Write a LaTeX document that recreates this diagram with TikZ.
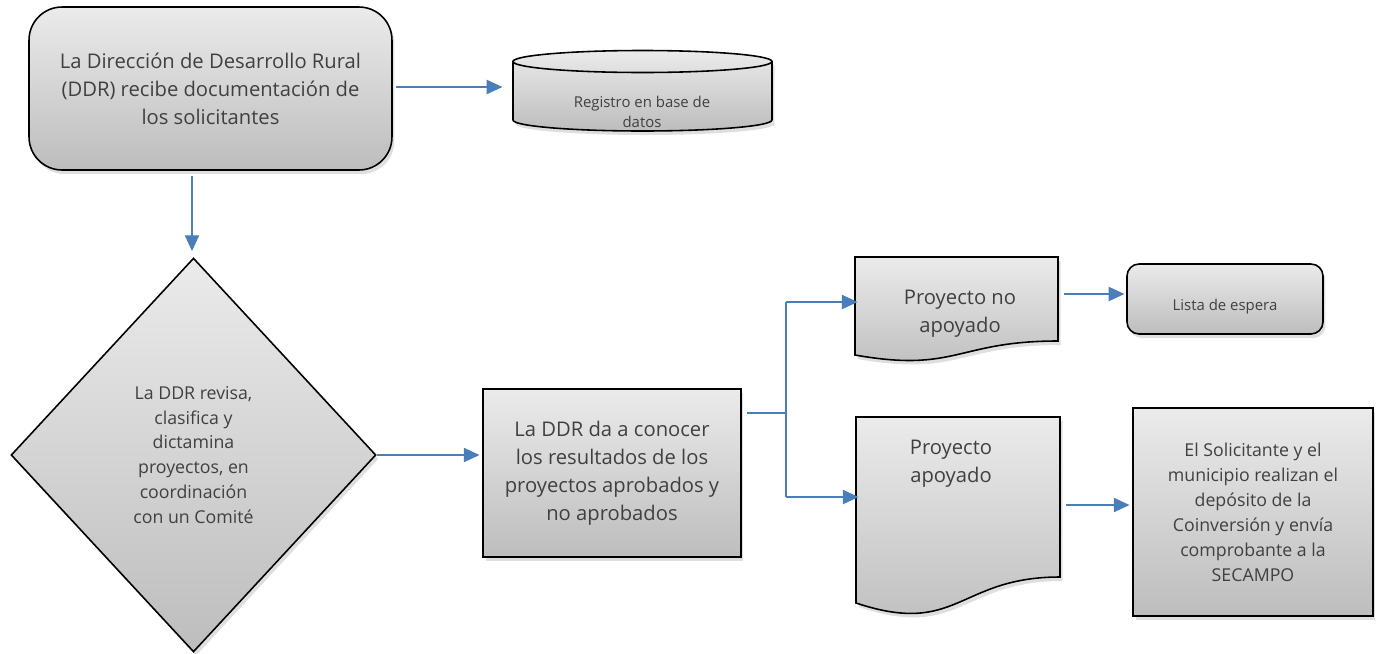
\documentclass[tikz,border=0pt]{standalone}
\usepackage{fontspec}
\setmainfont{Open Sans}
\usetikzlibrary{arrows.meta,shapes.geometric,shadows}
\definecolor{arrowblue}{HTML}{4A7EBB}
\definecolor{txt}{HTML}{404040}
\definecolor{gtop}{HTML}{EBEBEB}
\definecolor{gbot}{HTML}{BDBDBD}
\begin{document}
\begin{tikzpicture}[x=0.02cm,y=-0.02cm,
  box/.style={draw=black, line width=0.9pt, top color=gtop, bottom color=gbot,
    drop shadow={shadow xshift=0.5mm, shadow yshift=-0.8mm, opacity=0.25},
    text=txt, align=center, inner sep=0pt},
  anchorbox/.style={inner sep=0pt, outer sep=0pt},
  lbl/.style={text=txt, align=center, inner sep=0pt},
  conn/.style={draw=arrowblue, line width=1.2pt, -{Triangle[length=9pt,width=8pt]}},
  link/.style={draw=arrowblue, line width=1.2pt},
  fbig/.style={font=\fontsize{11.5}{16}\selectfont},
  fmid/.style={font=\fontsize{10.1}{14.2}\selectfont},
  fsmall/.style={font=\fontsize{8.5}{11.3}\selectfont}
]
\useasboundingbox (0,0) rectangle (1382,653);

% A: rounded rectangle
\node[box, fbig, rectangle, rounded corners=0.66cm, minimum width=7.26cm, minimum height=3.26cm]
  (A) at (210.5,88.5) {La Dirección de Desarrollo Rural\\(DDR) recibe documentación de\\los solicitantes};

% B: cylinder
\path[box] (513,61.5) -- (513,120)
  arc[start angle=180, end angle=360, x radius=2.59cm, y radius=0.22cm]
  -- (772,61.5)
  arc[start angle=0, end angle=180, x radius=2.59cm, y radius=0.22cm] -- cycle;
\draw[line width=0.9pt] (513,61.5) arc[start angle=180, end angle=360, x radius=2.59cm, y radius=0.22cm];
\node[anchorbox, minimum width=5.18cm, minimum height=1.62cm] (B) at (642.5,91) {};
\node[lbl, fsmall] (Bt) at (642,112) {Registro en base de\\datos};

% C: diamond
\node[box, fmid, diamond, minimum width=7.3cm, minimum height=7.88cm]
  (C) at (193.5,455) {La DDR revisa,\\clasifica y\\dictamina\\proyectos, en\\coordinación\\con un Comité};

% D: rectangle
\node[box, fbig, rectangle, minimum width=5.16cm, minimum height=3.36cm]
  (D) at (612,473) {La DDR da a conocer\\los resultados de los\\proyectos aprobados y\\no aprobados};

% E: document (Proyecto no apoyado)
\path[box] (855,257) -- (1058,257) -- (1058,341)
  .. controls (956.5,341) and (956.5,373) .. (855,355) -- cycle;
\node[anchorbox, minimum width=4.06cm, minimum height=1.96cm] (E) at (956.5,306) {};
\node[lbl, fbig] (Et) at (960,314) {Proyecto no\\apoyado};

% F: rounded rectangle
\node[box, rectangle, rounded corners=0.24cm, minimum width=3.92cm, minimum height=1.4cm]
  (F) at (1225,299) {};
\node[lbl, fsmall] (Ft) at (1225,307) {Lista de espera};

% G: document (Proyecto apoyado)
\path[box] (856,417) -- (1060,417) -- (1060,577)
  .. controls (958,577) and (958,637) .. (856,603) -- cycle;
\node[anchorbox, minimum width=4.08cm, minimum height=3.72cm] (G) at (958,510) {};
\node[lbl, fbig] (Gt) at (951,463.5) {Proyecto\\apoyado};

% H: rectangle
\node[box, fmid, rectangle, minimum width=4.8cm, minimum height=4.16cm]
  (H) at (1253,512) {El Solicitante y el\\municipio realizan el\\depósito de la\\Coinversión y envía\\comprobante a la\\SECAMPO};

% connector helpers
\coordinate (xa) at (192,0);
\coordinate (j) at (786,413);
\coordinate (jE) at (786,302);
\coordinate (jG) at (786,497);
\coordinate (ef) at (1100,294);
\coordinate (gh) at (1100,505);
\coordinate (ab) at (450,87);

% connectors
\draw[conn, shorten <=2pt, shorten >=6pt] (A.east |- ab) -- (B.west |- ab);
\draw[conn, shorten <=3pt, shorten >=3.5pt] (A.south -| xa) -- (C.north -| xa);
\draw[conn, shorten >=1.5pt] (C.east) -- (C.east -| D.west);
\draw[link, shorten <=3pt] (D.east |- j) -- (j);
\draw[link] (jE) -- (jG);
\draw[conn, shorten >=-1.5pt] (jE) -- (E.west |- jE);
\draw[conn, shorten >=-1.5pt] (jG) -- (G.west |- jG);
\draw[conn, shorten <=3.5pt, shorten >=1pt] (E.east |- ef) -- (F.west |- ef);
\draw[conn, shorten <=3.5pt, shorten >=1.5pt] (G.east |- gh) -- (H.west |- gh);
\end{tikzpicture}
\end{document}
